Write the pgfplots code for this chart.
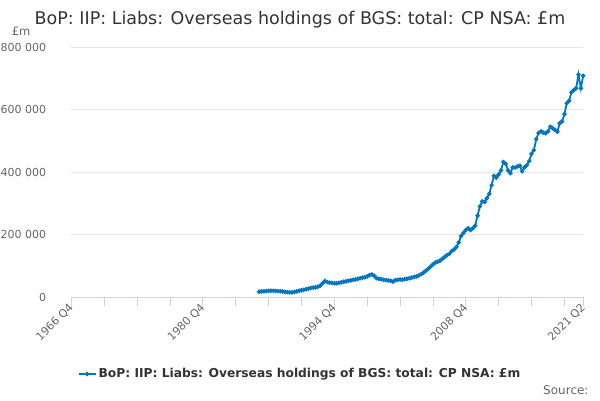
\documentclass[border=0pt]{standalone}
\usepackage{pgfplots}
\pgfplotsset{compat=1.18}
\usepackage{pgfplotstable}
\usepackage{fontspec}
\setmainfont{DejaVu Sans}
\definecolor{lineblue}{RGB}{0,118,194}
\definecolor{gridgray}{RGB}{230,230,230}
\definecolor{axisblue}{RGB}{204,214,235}
\definecolor{labgray}{RGB}{102,102,102}
\definecolor{titlegray}{RGB}{51,51,51}
\pgfplotstableread{
q v
80 17000
81 18000
82 18500
83 19000
84 19500
85 20000
86 20000
87 19500
88 19000
89 18500
90 17500
91 16500
92 15500
93 15000
94 15000
95 16000
96 18000
97 20000
98 21500
99 23000
100 25000
101 27000
102 29000
103 30000
104 31000
105 33000
106 36000
107 44000
108 51000
109 48000
110 46000
111 45000
112 44000
113 44000
114 45000
115 47000
116 49000
117 50000
118 52000
119 53000
120 55000
121 56000
122 58000
123 60000
124 62000
125 63000
126 66000
127 70000
128 72000
129 68000
130 60000
131 58000
132 57000
133 55000
134 54000
135 53000
136 52000
137 49000
138 54000
139 55000
140 56000
141 55000
142 57000
143 58000
144 60000
145 62000
146 64000
147 66000
148 69000
149 73000
150 78000
151 84000
152 90000
153 97000
154 104000
155 110000
156 113000
157 116000
158 122000
159 128000
160 134000
161 138000
162 147000
163 152000
164 160000
165 175000
166 195000
167 205000
168 214000
169 220000
170 214000
171 220000
172 228000
173 260000
174 290000
175 306000
176 304000
177 316000
178 330000
179 358000
180 388000
181 382000
182 392000
183 405000
184 432000
185 426000
186 405000
187 396000
188 415000
189 414000
190 418000
191 420000
192 402000
193 415000
194 422000
195 435000
196 458000
197 470000
198 505000
199 525000
200 530000
201 526000
202 524000
203 530000
204 545000
205 540000
206 535000
207 529000
208 556000
209 562000
210 585000
211 620000
212 628000
213 655000
214 662000
215 668000
216 712000
217 668000
218 708000
}\datatable
\begin{document}
\begin{tikzpicture}[x=1pt,y=1pt]
\path[use as bounding box] (0,0) rectangle (600,400);
\begin{axis}[
  at={(71.3pt,103pt)}, anchor=south west,
  width=511.9pt, height=250pt, scale only axis,
  xmin=0, xmax=218, ymin=0, ymax=800000,
  scaled y ticks=false, scaled x ticks=false,
  axis x line*=bottom, axis y line*=left,
  x axis line style={draw=axisblue, line width=0.8pt},
  y axis line style={draw=none},
  xtick={0,56,112,168,218},
  xticklabels={1966 Q4,1980 Q4,1994 Q4,2008 Q4,2021 Q2},
  minor xtick={14,28,42,70,84,98,126,140,154,182,196,210},
  ytick={0,200000,400000,600000,800000},
  yticklabels={0,200 000,400 000,600 000,800 000},
  tick align=outside,
  xtick style={draw=axisblue, line width=0.8pt},
  minor x tick style={draw=axisblue, line width=0.8pt},
  ytick style={draw=none},
  x tick label style={font=\fontsize{11}{13}\selectfont, text=labgray, rotate=45, anchor=east, inner sep=1pt, xshift=1.5pt},
  y tick label style={font=\fontsize{11}{13}\selectfont, text=labgray, anchor=east, inner sep=0pt, xshift=-16pt},
  major tick length=9pt, minor tick length=9pt,
  ymajorgrids, grid style={draw=gridgray, line width=0.8pt},
  clip=false,
  legend style={at={(0.4468,-0.308)}, anchor=center, draw=none, fill=none,
    font=\fontsize{12.25}{14}\selectfont\bfseries, text=titlegray},
  legend cell align=left,
]
\addplot[color=lineblue, line width=1.8pt, mark=*, mark size=1.2pt] table[x=q,y=v] {\datatable};
\addlegendentry{BoP: IIP: Liabs: Overseas holdings of BGS: total: CP NSA: £m}
\end{axis}
\node[anchor=base, text=titlegray, font=\fontsize{17.5}{20}\selectfont, inner sep=0pt] at (300,375) {BoP: IIP: Liabs: Overseas holdings of BGS: total: CP NSA: £m};
\node[anchor=base west, text=labgray, font=\fontsize{11.5}{13}\selectfont, inner sep=0pt] at (11.7,364) {£m};
\node[anchor=base east, text=labgray, font=\fontsize{12}{14}\selectfont, inner sep=0pt] at (588.7,5.5) {Source:};
\end{tikzpicture}
\end{document}
